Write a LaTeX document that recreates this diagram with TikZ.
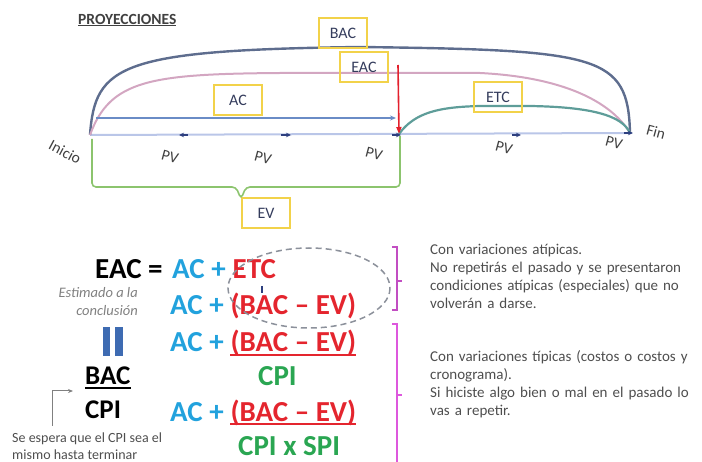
\documentclass[tikz,border=0pt]{standalone}
\usepackage{fontspec}
\setmainfont{Carlito}
\usetikzlibrary{arrows.meta}
\definecolor{boxyellow}{HTML}{F2D24A}
\definecolor{boxtext}{HTML}{343C5C}
\definecolor{arcbac}{HTML}{5E6D8E}
\definecolor{arceac}{HTML}{D3A6C1}
\definecolor{arcetc}{HTML}{5E9D99}
\definecolor{acblue}{HTML}{6A8CC6}
\definecolor{baseblue}{HTML}{BAC6E8}
\definecolor{redarr}{HTML}{E3202C}
\definecolor{markblue}{HTML}{2D3F7F}
\definecolor{evgreen}{HTML}{8CC46E}
\definecolor{eqcyan}{HTML}{22A2DD}
\definecolor{eqred}{HTML}{E4252E}
\definecolor{eqgreen}{HTML}{2AA652}
\definecolor{barblue}{HTML}{3E6BB2}
\definecolor{brkA}{HTML}{C24EC2}
\definecolor{brkB}{HTML}{DD58DD}
\definecolor{bodygray}{HTML}{4E4E4E}
\definecolor{lblgray}{HTML}{404040}
\definecolor{dashgray}{HTML}{8C919B}
\begin{document}
\begin{tikzpicture}[x=1pt,y=-1pt,
  lbox/.style={draw=boxyellow, line width=2pt, minimum width=48pt, minimum height=30pt,
    inner sep=0pt, text=boxtext, font=\fontsize{16}{19}\selectfont},
  eq/.style={font=\bfseries\fontsize{29}{32}\selectfont, inner sep=0pt, anchor=base west},
  lbl/.style={font=\fontsize{15.5}{18}\selectfont, text=lblgray, inner sep=0pt},
  body/.style={font=\fontsize{15}{18}\selectfont, text=bodygray, inner sep=0pt,
    anchor=north west, text width=268pt, align=left},
  tick/.style={markblue, line width=1.2pt, -{Stealth[length=5pt,width=4.5pt]}},
  uline/.style={line width=1.6pt},
]
\useasboundingbox (0,0) rectangle (702,462);

% title
\node[font=\bfseries\fontsize{15.5}{18}\selectfont, text=lblgray, anchor=west, inner sep=0pt]
  (title) at (78,20) {\underline{PROYECCIONES}};

% timeline
\coordinate (ini) at (90,135);
\coordinate (fin) at (630,133);
\coordinate (now) at (399,134);
\draw[baseblue, line width=2pt] (ini) -- (fin);
\draw[arcbac, line width=2.4pt] (ini) .. controls (95,65) and (120,50) .. (360,47)
  .. controls (600,50) and (628,55) .. (fin);
\draw[arceac, line width=2pt] (ini) .. controls (110,80) and (150,74) .. (280,73) -- (480,73)
  .. controls (560,77) and (610,100) .. (fin);
\draw[arcetc, line width=2.2pt] (now) .. controls (415,112) and (440,107) .. (480,106) -- (530,106)
  .. controls (590,107) and (622,115) .. (fin);
\coordinate (acs) at (96,118);
\coordinate (ace) at (396,118);
\draw[acblue, line width=2pt, -{Stealth[length=6pt,width=5pt]}] (acs) -- (ace);
\coordinate (redtop) at (398,65);
\draw[redarr, line width=1.6pt, -{Triangle[length=7pt,width=5pt]}] (redtop) -- (now);

% markers on baseline
\draw[tick] (188,135) -- (179,135);
\draw[tick] (281,135) -- (291,135);
\draw[tick] (392,135) -- (401,135);
\draw[tick] (512,135) -- (521,135);
\draw[tick] (624,133) -- (633,133);

% labels
\node[lbl, rotate=-28] (inicio) at (65,152) {Inicio};
\node[lbl, rotate=-15] (finl) at (656,132) {Fin};
\node[lbl, rotate=-15] (pv1) at (170,157) {PV};
\node[lbl, rotate=-15] (pv2) at (263,158) {PV};
\node[lbl, rotate=-15] (pv3) at (374,154) {PV};
\node[lbl, rotate=-15] (pv4) at (504,148) {PV};
\node[lbl, rotate=-15] (pv5) at (614,143) {PV};

% boxes
\node[lbox] (bac) at (343,33) {BAC};
\node[lbox] (eac) at (364,67) {EAC};
\node[lbox] (ac) at (238,100) {AC};
\node[lbox] (etc) at (498,97) {ETC};
\node[lbox] (ev) at (266,213) {EV};

% EV bracket
\draw[evgreen, line width=1.6pt, rounded corners=4pt]
  (92,139) -- (92,187) -- (236,187) -- (241,199) -- (246,187) -- (400,187) -- (400,136);

% equations
\node[eq] (eacl) at (95,279) {EAC =};
\node[eq, text=eqcyan] (ac1) at (172,279) {AC +};
\node[eq, text=eqred] (etc1) at ([xshift=6.5pt]ac1.base east) {ETC};
\node[eq, text=eqcyan] (ac2) at (170,315) {AC +};
\node[eq, text=eqred] (bev2) at ([xshift=6.5pt]ac2.base east) {(BAC – EV)};
\node[eq, text=eqcyan] (ac3) at (170,352) {AC +};
\node[eq, text=eqred] (bev3) at ([xshift=6.5pt]ac3.base east) {(BAC – EV)};
\draw[eqred, uline] ([yshift=-3pt]bev3.base west) -- ([yshift=-3pt]bev3.base east);
\node[eq, text=eqgreen] (cpi3) at (258,386) {CPI};
\node[eq, text=eqcyan] (ac5) at (170,421) {AC +};
\node[eq, text=eqred] (bev5) at ([xshift=6.5pt]ac5.base east) {(BAC – EV)};
\draw[eqred, uline] ([yshift=-3pt]bev5.base west) -- ([yshift=-3pt]bev5.base east);
\node[eq, text=eqgreen] (cpispi) at (238,455) {CPI x SPI};

% dashed ellipse and small mark
\draw[dashgray, line width=1.5pt, dash pattern=on 6pt off 4pt] (309,288) ellipse [x radius=81, y radius=40];
\draw[markblue, line width=1.5pt] (262,286) -- (262,293);

% left side
\node[font=\itshape\fontsize{14.5}{18}\selectfont, text=gray, align=right, anchor=north east, inner sep=0pt]
  (est) at (138,287) {Estimado a la\\conclusión};
\fill[barblue] (103,327) rectangle (110,356);
\fill[barblue] (115,327) rectangle (123,356);
\node[font=\bfseries\fontsize{27}{30}\selectfont, anchor=base west, inner sep=0pt] (fbac) at (85,385) {BAC};
\draw[uline] ([yshift=-3pt]fbac.base west) -- ([yshift=-3pt]fbac.base east);
\node[font=\bfseries\fontsize{27}{30}\selectfont, anchor=base west, inner sep=0pt] (fcpi) at (85,418) {CPI};
\coordinate (elb0) at (52,426);
\coordinate (elb1) at (73,391);
\draw[gray, line width=1pt, -{Stealth[length=5pt,width=4pt]}] (elb0) |- (elb1);
\node[font=\fontsize{14}{17}\selectfont, text=bodygray, anchor=north west, inner sep=0pt, align=left]
  (se) at (12,433) {Se espera que el CPI sea el\\mismo hasta terminar};

% right brackets
\draw[brkA, line width=1.5pt] (392,247) -- (397,247) -- (397,310) -- (392,310);
\draw[brkA, line width=1.5pt] (397,281) -- (402,281);
\draw[brkB, line width=1.5pt] (392,324) -- (397,324) -- (397,470);
\draw[brkB, line width=1.5pt] (397,395) -- (402,395);

% text blocks
\node[body] (t1) at (430,244) {Con variaciones atípicas.\\
  \makebox[270pt][s]{No repetirás el pasado y se presentaron}\\
  \makebox[270pt][s]{condiciones atípicas (especiales) que no}\\
  volverán a darse.};
\node[body] (t2) at (430,350) {\makebox[270pt][s]{Con variaciones típicas (costos o costos y}\\
  cronograma).\\
  \makebox[270pt][s]{Si hiciste algo bien o mal en el pasado lo}\\
  vas a repetir.};
\end{tikzpicture}
\end{document}
